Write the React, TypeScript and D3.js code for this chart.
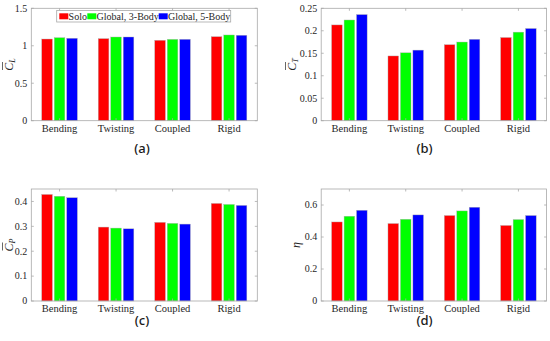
import React from 'react';
import * as d3 from 'd3';

const categories = ['Bending', 'Twisting', 'Coupled', 'Rigid'];
const series = ['Solo', 'Global, 3-Body', 'Global, 5-Body'];
const colors = ['#ff0000', '#00ff00', '#0000ff'];

// values per category, order: Solo, Global 3-Body, Global 5-Body
const clValues = [
  [1.09, 1.108, 1.1],
  [1.095, 1.117, 1.117],
  [1.073, 1.086, 1.086],
  [1.121, 1.144, 1.14],
];
const ctValues = [
  [0.213, 0.224, 0.236],
  [0.144, 0.151, 0.157],
  [0.169, 0.175, 0.181],
  [0.185, 0.197, 0.205],
];
const cpValues = [
  [0.428, 0.421, 0.415],
  [0.297, 0.293, 0.29],
  [0.316, 0.312, 0.309],
  [0.392, 0.388, 0.384],
];
const etaValues = [
  [0.494, 0.53, 0.567],
  [0.484, 0.511, 0.538],
  [0.534, 0.563, 0.586],
  [0.472, 0.509, 0.534],
];

const clTicks = [0, 0.5, 1, 1.5];
const ctTicks = [0, 0.05, 0.1, 0.15, 0.2, 0.25];
const cpTicks = [0, 0.1, 0.2, 0.3, 0.4];
const etaTicks = [0, 0.2, 0.4, 0.6];

const serif = { fontFamily: "'Liberation Serif', 'DejaVu Serif', serif" };
const axisColor = '#a8a8a8';
const textColor = '#262626';

type PanelProps = {
  x0: number;
  x1: number;
  y0: number;
  y1: number;
  yMax: number;
  ticks: number[];
  values: number[][];
  ylabel: React.ReactNode;
  labelX: number;
  caption: string;
  capX: number;
  capY: number;
  legend?: boolean;
};

const fmt = (v: number) => (v === 0 ? '0' : String(v));

const Panel = ({ x0, x1, y0, y1, yMax, ticks, values, ylabel, labelX, caption, capX, capY, legend }: PanelProps) => {
  const x = d3.scaleLinear().domain([0.5, 4.5]).range([x0, x1]);
  const y = d3.scaleLinear().domain([0, yMax]).range([y1, y0]);
  const unit = x(1) - x(0);
  const inner = d3.scaleBand<number>().domain([0, 1, 2]).range([-0.315 * unit, 0.315 * unit]).paddingInner(0.15);

  return (
    <g>
      {values.map((row, i) =>
        row.map((v, j) => (
          <rect
            key={`${i}-${j}`}
            x={x(i + 1) + (inner(j) as number)}
            y={y(v)}
            width={inner.bandwidth()}
            height={y(0) - y(v)}
            fill={colors[j]}
            stroke="#b0b0b0"
            strokeWidth={0.4}
          />
        ))
      )}
      <rect x={x0} y={y0} width={x1 - x0} height={y1 - y0} fill="none" stroke={axisColor} strokeWidth={0.8} />
      {ticks.map((t) => (
        <g key={t}>
          <line x1={x0} x2={x0 + 2.5} y1={y(t)} y2={y(t)} stroke={axisColor} strokeWidth={0.8} />
          <line x1={x1} x2={x1 - 2.5} y1={y(t)} y2={y(t)} stroke={axisColor} strokeWidth={0.8} />
          <text x={x0 - 4} y={y(t) + 3.3} textAnchor="end" style={serif} fontSize={10} fill={textColor}>
            {fmt(t)}
          </text>
        </g>
      ))}
      {categories.map((c, i) => (
        <g key={c}>
          <line x1={x(i + 1)} x2={x(i + 1)} y1={y1} y2={y1 - 2.5} stroke={axisColor} strokeWidth={0.8} />
          <line x1={x(i + 1)} x2={x(i + 1)} y1={y0} y2={y0 + 2.5} stroke={axisColor} strokeWidth={0.8} />
          <text x={x(i + 1)} y={y1 + 11} textAnchor="middle" style={serif} fontSize={10.5} fill={textColor}>
            {c}
          </text>
        </g>
      ))}
      <g transform={`translate(${labelX},${(y0 + y1) / 2}) rotate(-90)`}>{ylabel}</g>
      <text x={capX} y={capY} textAnchor="middle" style={{ fontFamily: "'Noto Sans', sans-serif" }} fontSize={13} fontWeight={500} fill="#1a1a1a">
        {caption}
      </text>
      {legend && (
        <g>
          <rect x={56.7} y={10.5} width={174} height={11.5} fill="#fff" stroke={axisColor} strokeWidth={0.8} />
          {series.map((s, j) => {
            const lx = [59.3, 87.3, 158.7][j];
            return (
              <g key={s}>
                <rect x={lx} y={13.3} width={9} height={6} fill={colors[j]} />
                <text x={lx + 9.3} y={19.6} style={serif} fontSize={10} fill={textColor}>
                  {s}
                </text>
              </g>
            );
          })}
        </g>
      )}
    </g>
  );
};

const CoefLabel = ({ sub }: { sub: string }) => (
  <g>
    <line x1={-5.5} x2={2.5} y1={-10.5} y2={-10.5} stroke={textColor} strokeWidth={0.7} />
    <text x={0} y={0} textAnchor="middle" style={serif} fontStyle="italic" fontSize={12} fill={textColor}>
      C<tspan fontSize={8} dy={2}>{sub}</tspan>
    </text>
  </g>
);

const App = () => {
  return (
    <svg width={550} height={341} style={{ display: 'block', position: 'absolute', left: 0, top: 0, background: '#fff' }}>
      <Panel x0={31.3} x1={257.3} y0={8.3} y1={120.7} yMax={1.5} ticks={clTicks} values={clValues}
        ylabel={<CoefLabel sub="L" />} labelX={13} caption="(a)" capX={142} capY={153} legend />
      <Panel x0={321.2} x1={546.6} y0={8.3} y1={120.7} yMax={0.25} ticks={ctTicks} values={ctValues}
        ylabel={<CoefLabel sub="T" />} labelX={296} caption="(b)" capX={424.5} capY={153} />
      <Panel x0={31.3} x1={257.3} y0={189} y1={301} yMax={0.45} ticks={cpTicks} values={cpValues}
        ylabel={<CoefLabel sub="P" />} labelX={13} caption="(c)" capX={142} capY={325} />
      <Panel x0={321.2} x1={546.6} y0={189} y1={301} yMax={0.7} ticks={etaTicks} values={etaValues}
        ylabel={<text x={0} y={0} textAnchor="middle" style={serif} fontStyle="italic" fontSize={12} fill={textColor}>η</text>}
        labelX={300} caption="(d)" capX={424.5} capY={325} />
    </svg>
  );
};

export default App;
